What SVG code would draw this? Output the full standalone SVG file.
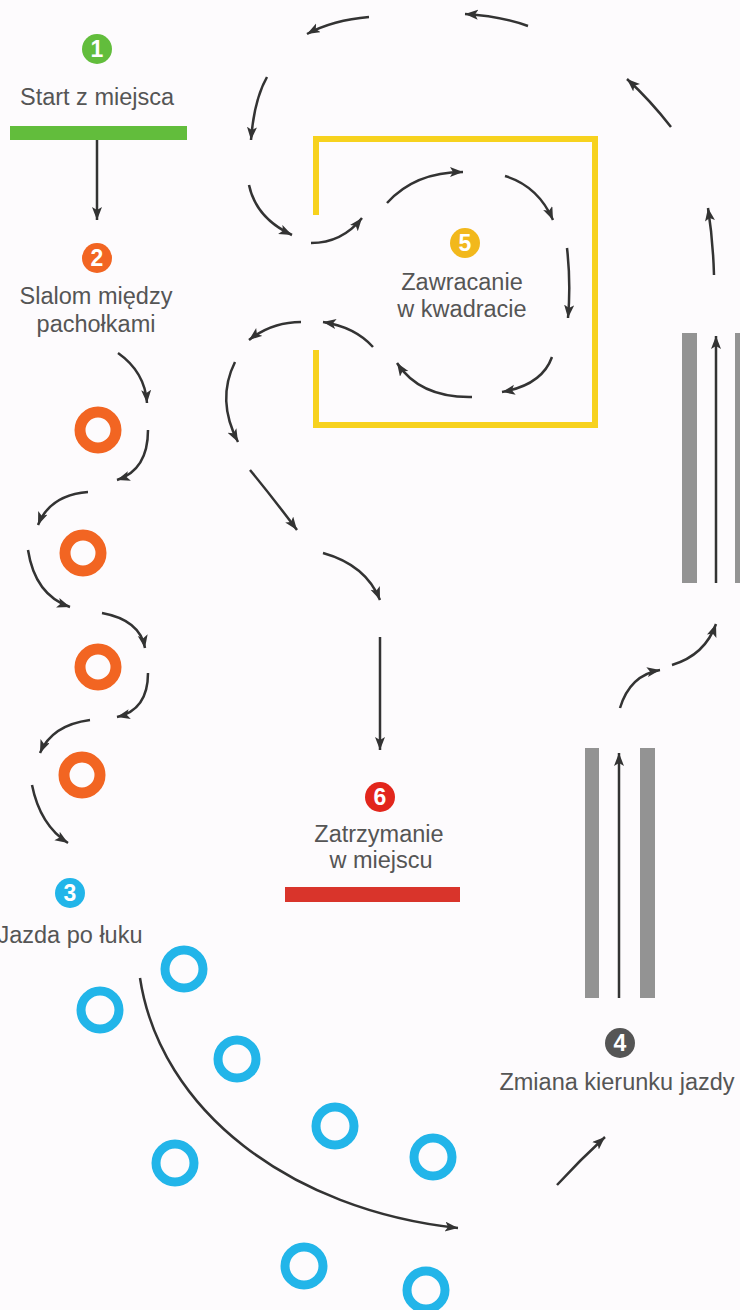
<svg xmlns="http://www.w3.org/2000/svg" width="740" height="1310" viewBox="0 0 740 1310">
<defs>
<marker id="ah" markerUnits="userSpaceOnUse" markerWidth="16" markerHeight="12" refX="13" refY="5" orient="auto">
<path d="M0,0 L13,5 L0,10 L3,5 z" fill="#333"/>
</marker>
</defs>
<style>
.lbl{font-family:"Liberation Sans",Arial,sans-serif;font-size:23.5px;fill:#555;text-anchor:middle}
.num{font-family:"Liberation Sans",Arial,sans-serif;font-size:23px;font-weight:bold;fill:#fff;text-anchor:middle}
.arr{fill:none;stroke:#333;stroke-width:2.5;marker-end:url(#ah)}
.orange{fill:none;stroke:#f26522;stroke-width:11}
.cyan{fill:none;stroke:#22b5e9;stroke-width:9}
.lane{fill:#939393}
</style>
<rect width="740" height="1310" fill="#fdfbfd"/>

<g id="node1">
<rect x="10" y="126" width="177" height="14" fill="#62bd3c"/>
<circle cx="97" cy="49" r="15" fill="#62bd3c"/>
<text class="num" x="97" y="57">1</text>
<text class="lbl" x="97" y="105">Start z miejsca</text>
</g>

<g id="node2">
<circle cx="97" cy="258" r="15" fill="#f26522"/>
<text class="num" x="97" y="266">2</text>
<text class="lbl" x="96" y="304">Slalom między</text>
<text class="lbl" x="96" y="332">pachołkami</text>
<circle class="orange" cx="98" cy="430" r="18"/>
<circle class="orange" cx="83" cy="553" r="18"/>
<circle class="orange" cx="98" cy="667" r="18"/>
<circle class="orange" cx="82" cy="775" r="18"/>
</g>

<g id="node3">
<circle cx="70" cy="893" r="15" fill="#22b5e9"/>
<text class="num" x="70" y="901">3</text>
<text class="lbl" x="70" y="943">Jazda po łuku</text>
<circle class="cyan" cx="184" cy="969" r="19"/>
<circle class="cyan" cx="100" cy="1010" r="19"/>
<circle class="cyan" cx="237" cy="1059" r="19"/>
<circle class="cyan" cx="335" cy="1126" r="19"/>
<circle class="cyan" cx="433" cy="1157" r="19"/>
<circle class="cyan" cx="175" cy="1163" r="19"/>
<circle class="cyan" cx="304" cy="1266" r="19"/>
<circle class="cyan" cx="426" cy="1290" r="19"/>
</g>

<g id="node4">
<rect class="lane" x="585" y="748" width="14" height="250"/>
<rect class="lane" x="640" y="748" width="15" height="250"/>
<rect class="lane" x="682" y="333" width="15" height="250"/>
<rect class="lane" x="735" y="333" width="15" height="250"/>
<circle cx="620" cy="1043" r="15" fill="#555"/>
<text class="num" x="620" y="1051">4</text>
<text class="lbl" x="617" y="1090">Zmiana kierunku jazdy</text>
</g>

<g id="node5">
<path d="M316,215 V139 H595 V425 H316 V350" fill="none" stroke="#f7d21e" stroke-width="6"/>
<circle cx="465" cy="243" r="15" fill="#f2b81c"/>
<text class="num" x="465" y="251">5</text>
<text class="lbl" x="462" y="290">Zawracanie</text>
<text class="lbl" x="462" y="317">w kwadracie</text>
</g>

<g id="node6">
<rect x="285" y="887" width="175" height="15" fill="#d9342b"/>
<circle cx="380" cy="797" r="15" fill="#e2261c"/>
<text class="num" x="380" y="805">6</text>
<text class="lbl" x="379" y="842">Zatrzymanie</text>
<text class="lbl" x="381" y="868">w miejscu</text>
</g>

<g id="connectors">
<path class="arr" d="M97,140 L97,220"/>
<path class="arr" d="M118,353 Q145,372 147,403"/>
<path class="arr" d="M148,430 Q148,470 117,480"/>
<path class="arr" d="M88,492 Q50,495 38,525"/>
<path class="arr" d="M28,550 Q35,595 70,607"/>
<path class="arr" d="M102,613 Q140,620 145,648"/>
<path class="arr" d="M148,673 Q148,710 117,717"/>
<path class="arr" d="M90,720 Q52,725 40,753"/>
<path class="arr" d="M32,785 Q40,825 68,843"/>
<path class="arr" d="M140,978 C160,1110 290,1210 458,1228"/>
<path class="arr" d="M557,1185 Q580,1160 605,1137"/>
<path class="arr" d="M619,998 L619,753"/>
<path class="arr" d="M620,708 Q630,675 660,670"/>
<path class="arr" d="M672,665 Q705,655 716,624"/>
<path class="arr" d="M716,583 L716,336"/>
<path class="arr" d="M714,275 Q713,240 708,208"/>
<path class="arr" d="M671,127 Q650,100 627,79"/>
<path class="arr" d="M528,26 Q500,16 465,14"/>
<path class="arr" d="M369,17 Q333,20 307,34"/>
<path class="arr" d="M267,77 Q254,100 251,140"/>
<path class="arr" d="M249,185 Q256,218 292,235"/>
<path class="arr" d="M311,243 Q342,243 362,218"/>
<path class="arr" d="M387,203 Q415,172 463,172"/>
<path class="arr" d="M505,176 Q538,186 553,220"/>
<path class="arr" d="M567,248 Q571,283 568,318"/>
<path class="arr" d="M552,357 Q542,385 502,392"/>
<path class="arr" d="M472,397 Q420,398 397,363"/>
<path class="arr" d="M373,347 Q355,327 323,322"/>
<path class="arr" d="M301,322 Q272,322 249,340"/>
<path class="arr" d="M235,362 Q216,400 238,442"/>
<path class="arr" d="M250,470 Q273,498 297,530"/>
<path class="arr" d="M323,553 Q366,565 380,600"/>
<path class="arr" d="M380,637 L380,750"/>
</g>
</svg>
